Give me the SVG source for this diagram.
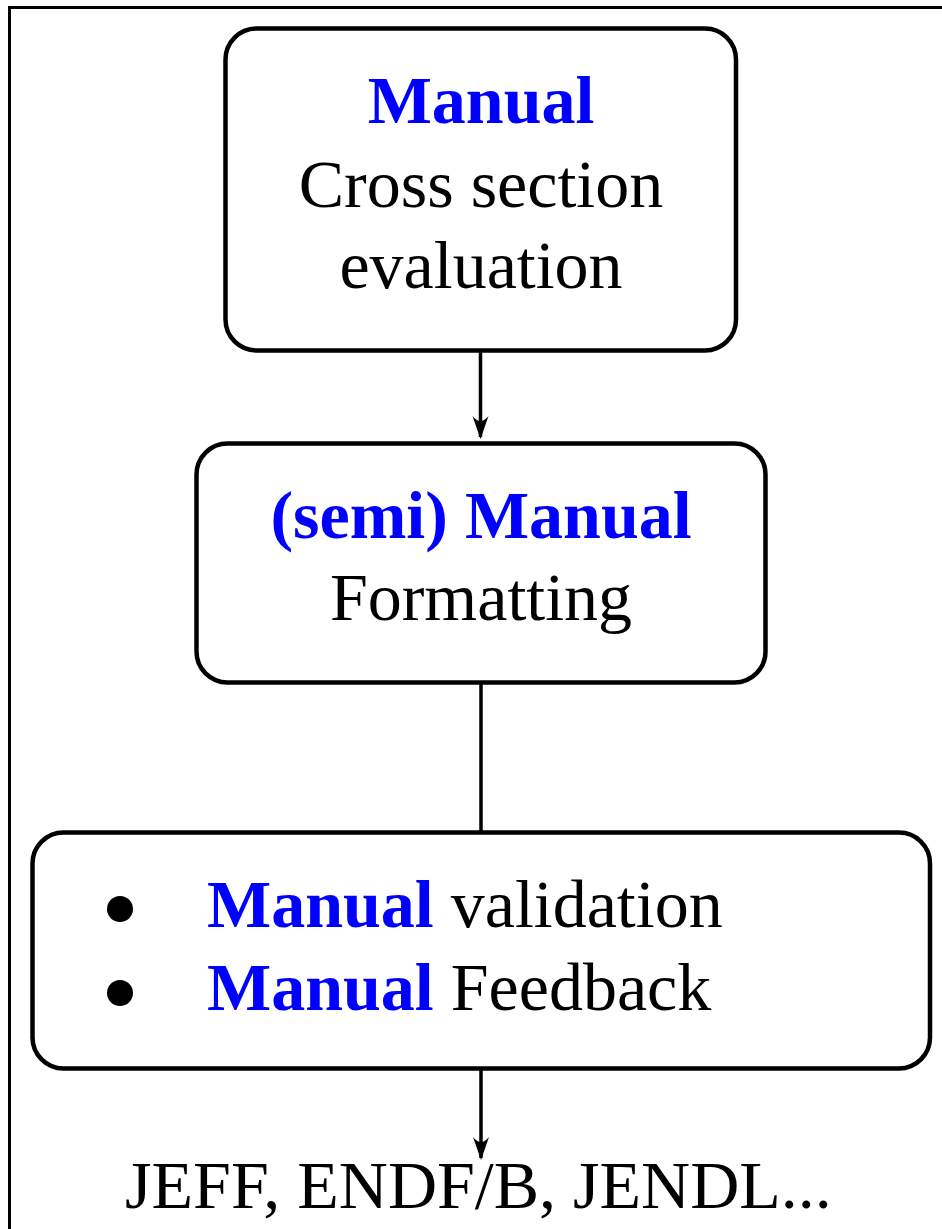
<svg xmlns="http://www.w3.org/2000/svg" width="942" height="1229" viewBox="0 0 942 1229">
<style>
.box{fill:#fff;stroke:#000;stroke-width:4.5}
.t{font-family:"Liberation Serif","Times New Roman",serif;font-size:68px;fill:#000}
.b{font-weight:bold;fill:#0000ff}
.c{text-anchor:middle}
.edge{stroke:#000;stroke-width:3.5;fill:none}
</style>
<defs>
<marker id="ah" markerWidth="20" markerHeight="26" viewBox="-9 -24 18 25" refX="0" refY="0" orient="auto-start-reverse" markerUnits="userSpaceOnUse">
<path d="M0,0 L-8,-23 Q0,-13 8,-23 Z" fill="#000"/>
</marker>
</defs>
<rect width="942" height="1229" fill="#fff"/>
<path d="M9.5,1229 V7.5 H942" fill="none" stroke="#000" stroke-width="3"/>
<g id="connectors">
<path class="edge" d="M480.5,350 V437"/>
<path d="M480.5,439 L472.5,416 Q480.5,426 488.5,416 Z" fill="#000"/>
<path class="edge" d="M481,683 V832"/>
<path class="edge" d="M481,1069 V1158"/>
<path d="M481,1160 L473,1137 Q481,1147 489,1137 Z" fill="#000"/>
</g>
<g id="node1">
<rect class="box" x="225.5" y="28.5" width="510.5" height="322" rx="31"/>
<text class="t b c" x="481" y="123">Manual</text>
<text class="t c" x="481" y="207">Cross section</text>
<text class="t c" x="481" y="288">evaluation</text>
</g>
<g id="node2">
<rect class="box" x="196.5" y="443.5" width="569" height="239" rx="31"/>
<text class="t b c" x="481" y="538">(semi) Manual</text>
<text class="t c" x="481" y="620">Formatting</text>
</g>
<g id="node3">
<rect class="box" x="32.5" y="832.5" width="897.5" height="236" rx="31"/>
<circle cx="120" cy="909" r="13" fill="#000"/>
<circle cx="120" cy="993" r="13" fill="#000"/>
<text class="t" x="207" y="927"><tspan class="b">Manual</tspan> validation</text>
<text class="t" x="207" y="1010"><tspan class="b">Manual</tspan> Feedback</text>
</g>
<g id="output">
<text class="t c" x="478.5" y="1208">JEFF, ENDF/B, JENDL...</text>
</g>
</svg>
